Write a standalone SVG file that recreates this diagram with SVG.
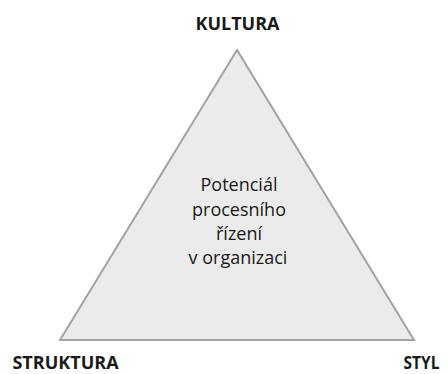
<svg xmlns="http://www.w3.org/2000/svg" width="448" height="374" viewBox="0 0 448 374">
  <style>
    .corner { font-family: "Open Sans", "Liberation Sans", sans-serif; font-weight: bold; font-size: 18px; fill: #1a1a1a; text-anchor: middle; }
    .inner { font-family: "Open Sans", "Liberation Sans", sans-serif; font-size: 18px; fill: #1a1a1a; text-anchor: middle; }
    .tri { fill: #ebebeb; stroke: #a3a3a3; stroke-width: 2; stroke-linejoin: miter; }
  </style>
  <rect width="448" height="374" fill="#ffffff"/>

  <!-- central triangle with its caption -->
  <g id="triangle">
    <polygon class="tri" points="237,50 60,340 414,340"/>
    <text class="inner" x="239" y="191">Potenciál</text>
    <text class="inner" x="239" y="215.5">procesního</text>
    <text class="inner" x="239" y="240">řízení</text>
    <text class="inner" x="238" y="264">v organizaci</text>
  </g>

  <!-- corner labels -->
  <g id="kultura">
    <text class="corner" x="237.5" y="30">KULTURA</text>
  </g>
  <g id="struktura">
    <text class="corner" x="65.5" y="369">STRUKTURA</text>
  </g>
  <g id="styl">
    <text class="corner" x="421.5" y="369" textLength="36" lengthAdjust="spacingAndGlyphs">STYL</text>
  </g>
</svg>
